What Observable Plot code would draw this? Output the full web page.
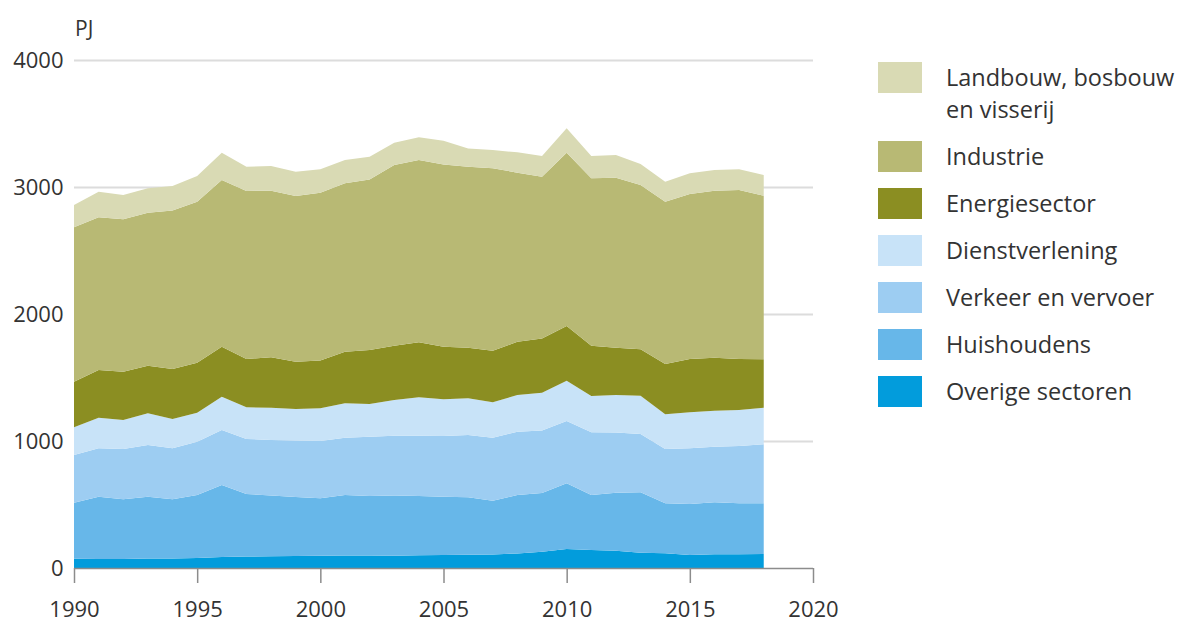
<!DOCTYPE html>
<html>
<head>
<meta charset="utf-8">
<script src="https://cdn.jsdelivr.net/npm/d3@7"></script>
<script src="https://cdn.jsdelivr.net/npm/@observablehq/plot@0.6"></script>
<style>
  html, body { margin: 0; padding: 0; background: #fff; }
  #wrap { position: relative; width: 1179px; height: 622px; font-family: "Open Sans", sans-serif; color: #333; }
  #chart { position: absolute; left: 0; top: 0; }
  #unit { position: absolute; left: 75px; top: 14px; font-size: 21px; }
  #legend { position: absolute; left: 878px; top: 62px; }
  .item { display: flex; align-items: flex-start; margin-bottom: 16px; }
  .sw { width: 44px; height: 31px; flex: none; }
  .lab { margin-left: 24px; font-size: 23.5px; line-height: 32px; margin-top: -1px; }
</style>
</head>
<body>
<div id="wrap">
  <div id="chart"></div>
  <div id="unit">PJ</div>
  <div id="legend"></div>
</div>
<script>
const years = [1990,1991,1992,1993,1994,1995,1996,1997,1998,1999,2000,2001,2002,2003,2004,2005,2006,2007,2008,2009,2010,2011,2012,2013,2014,2015,2016,2017,2018];

// Sectors, bottom to top of the stack
const sectors = ["Overige sectoren","Huishoudens","Verkeer en vervoer","Dienstverlening","Energiesector","Industrie","Landbouw, bosbouw en visserij"];
const colors  = ["#029cdc","#67b7e9","#9dcdf2","#c8e3f8","#8b8e22","#b8b974","#d9dab4"];

const overige     = [72,70,70,74,74,78,86,90,92,95,97,98,98,97,100,102,104,106,115,128,150,142,136,120,116,102,108,108,110];
const huishoudens = [442,492,471,488,467,497,568,493,478,464,452,477,469,473,467,460,453,424,460,462,517,433,457,476,393,402,409,401,399];
const verkeer     = [376,380,396,407,401,420,433,433,438,444,451,451,467,472,475,477,490,496,498,493,490,493,473,459,428,438,438,452,465];
const dienst      = [218,242,228,249,231,228,262,249,254,249,257,271,257,281,302,289,289,279,289,297,318,286,296,302,273,284,284,283,288];
const energie     = [359,375,381,375,394,394,394,381,397,373,376,406,426,427,433,415,399,406,420,428,431,396,373,365,396,420,417,402,381];
const industrie   = [1216,1202,1200,1205,1247,1267,1312,1323,1312,1304,1322,1326,1343,1423,1436,1435,1425,1436,1331,1273,1364,1318,1338,1294,1278,1299,1315,1330,1289];
const landbouw    = [175,202,191,192,194,203,215,191,194,191,184,184,179,176,178,187,144,144,160,163,192,176,179,165,158,163,163,163,162];

const yTicks = [0,1000,2000,3000,4000];
const xTicks = [1990,1995,2000,2005,2010,2015,2020];

const seriesValues = [overige, huishoudens, verkeer, dienst, energie, industrie, landbouw];
const rows = [];
sectors.forEach((s, i) => years.forEach((yr, j) => rows.push({year: yr, sector: s, value: seriesValues[i][j]})));

const chart = Plot.plot({
  width: 850,
  height: 622,
  marginTop: 60,
  marginBottom: 54,
  marginLeft: 74,
  marginRight: 37,
  style: {fontFamily: "Open Sans, sans-serif", fontSize: "22px", color: "#333", background: "#fff"},
  x: {domain: [1990, 2020], ticks: xTicks, tickFormat: "d", label: null},
  y: {domain: [0, 4000], ticks: yTicks, tickFormat: "d", label: null},
  color: {domain: sectors, range: colors},
  marks: [
    Plot.gridY(yTicks.filter(d => d > 0), {stroke: "#dcdcdc", strokeOpacity: 1, strokeWidth: 2}),
    Plot.areaY(rows, {x: "year", y: "value", z: "sector", fill: "sector", order: sectors, curve: "linear"}),
    Plot.ruleY([0], {stroke: "#8c8c8c", strokeWidth: 1.5}),
    Plot.axisX({ticks: xTicks, tickFormat: "d", tickSize: 15, tickPadding: 18, stroke: "#8c8c8c", strokeWidth: 1.5, label: null}),
    Plot.axisY({ticks: yTicks, tickFormat: "d", tickSize: 0, tickPadding: 11, label: null})
  ]
});
document.getElementById("chart").appendChild(chart);

// Legend (top to bottom = top of stack first)
const legend = document.getElementById("legend");
const legendLabels = ["Landbouw, bosbouw<br>en visserij","Industrie","Energiesector","Dienstverlening","Verkeer en vervoer","Huishoudens","Overige sectoren"];
const legendColors = colors.slice().reverse();
legendLabels.forEach((t, i) => {
  const it = document.createElement("div");
  it.className = "item";
  it.innerHTML = `<div class="sw" style="background:${legendColors[i]}"></div><div class="lab">${t}</div>`;
  legend.appendChild(it);
});
</script>
</body>
</html>
